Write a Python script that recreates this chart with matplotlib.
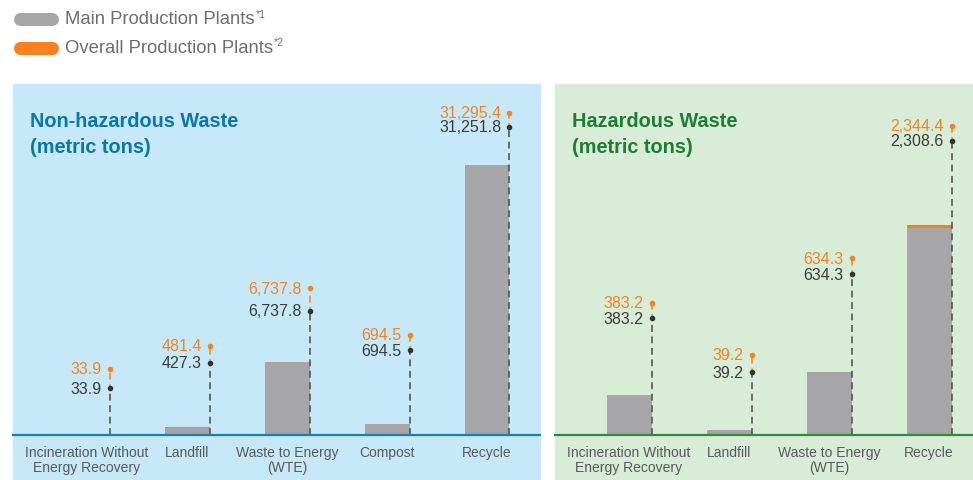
import numpy as np
import matplotlib
matplotlib.use("Agg")
from matplotlib import pyplot as plt
from matplotlib.patches import Rectangle
from matplotlib.lines import Line2D

plt.rcParams['font.family'] = ['Liberation Sans', 'DejaVu Sans']

# data (metric tons)
nh_cats = ["Incineration Without\nEnergy Recovery", "Landfill", "Waste to Energy\n(WTE)", "Compost", "Recycle"]
nh_main = [33.9, 427.3, 6737.8, 694.5, 31251.8]
nh_overall = [33.9, 481.4, 6737.8, 694.5, 31295.4]

hz_cats = ["Incineration Without\nEnergy Recovery", "Landfill", "Waste to Energy\n(WTE)", "Recycle"]
hz_main = [383.2, 39.2, 634.3, 2308.6]
hz_overall = [383.2, 39.2, 634.3, 2344.4]

# label stem heights (pixels above baseline) - layout only
nh_dot_px = [47, 72, 124, 85, 308]
nh_top_px = [66, 89, 147, 100, 322]
hz_dot_px = [117, 63, 161, 294]
hz_top_px = [132, 80, 177, 309]

GREY = "#a6a6a9"
ORANGE = "#f5821f"
NUM_DARK = "#3c3c3c"
NUM_ORANGE = "#f08424"

W, H = 973, 481
fig = plt.figure(figsize=(W / 100, H / 100), dpi=100)

AX_TOP = 85
BASE = 436
AX_H = BASE - AX_TOP


def px_rect(x0, x1, y0, y1):
    return [x0 / W, 1 - y1 / H, (x1 - x0) / W, (y1 - y0) / H]


def panel(x0, x1, bg, line_col, title_col, title, cats, main, overall,
          dot_px, top_px, p, anchor_px):
    fig.patches.append(Rectangle((x0 / W, 1 - 480 / H), (x1 - x0) / W, (480 - AX_TOP) / H,
                                 transform=fig.transFigure, color=bg, zorder=-5))
    ax = fig.add_axes(px_rect(x0, x1, AX_TOP, BASE))
    ax.set_facecolor("none")
    fwd = lambda v: np.sign(v) * np.abs(v) ** p
    inv = lambda v: np.sign(v) * np.abs(v) ** (1 / p)
    ax.set_yscale('function', functions=(fwd, inv))
    top = main[-1] * (AX_H / anchor_px) ** (1 / p)
    ax.set_ylim(0, top)
    n = len(cats)
    x = np.arange(n)
    left_off = 74 / 100
    ax.set_xlim(-left_off, -left_off + (x1 - x0) / 100)
    bw = 0.45
    main = np.array(main)
    overall = np.array(overall)
    ax.bar(x, main, width=bw, color=GREY, zorder=2)
    ax.bar(x, overall - main, bottom=main, width=bw, color=ORANGE, zorder=2)

    tr = ax.get_xaxis_transform()
    for i in range(n):
        sx = x[i] + bw / 2
        yd = dot_px[i] / AX_H
        yt = top_px[i] / AX_H
        ax.plot([sx, sx], [0, yd], transform=tr, color="#4a4a4a", lw=1.1,
                ls=(0, (4.5, 3)), zorder=3, clip_on=False)
        ax.plot([sx, sx], [yd, yt], transform=tr, color=ORANGE, lw=1.1,
                ls=(2, (4.5, 3)), zorder=3, clip_on=False)
        ax.plot(sx, yd, 'o', ms=3, color="#333333", transform=tr, zorder=4, clip_on=False)
        ax.plot(sx, yt, 'o', ms=3, color=ORANGE, transform=tr, zorder=4, clip_on=False)
        ax.annotate(f"{main[i]:,.1f}", (sx, yd), xycoords=tr, xytext=(-8, 0),
                    textcoords='offset pixels', ha='right', va='center',
                    fontsize=11.5, color=NUM_DARK)
        ax.annotate(f"{overall[i]:,.1f}", (sx, yt), xycoords=tr, xytext=(-8, 0),
                    textcoords='offset pixels', ha='right', va='center',
                    fontsize=11.5, color=NUM_ORANGE)

    ax.set_xticks(x, cats)
    ax.tick_params(axis='x', length=0, pad=7, labelsize=10, labelcolor="#58595b")
    for lbl in ax.get_xticklabels():
        lbl.set_linespacing(1.12)
    ax.set_yticks([])
    ax.minorticks_off()
    for s in ['top', 'left', 'right']:
        ax.spines[s].set_visible(False)
    ax.spines['bottom'].set_color(line_col)
    ax.spines['bottom'].set_linewidth(1.6)
    ax.spines['bottom'].set_zorder(5)

    tx = (x0 + 17) / W
    fig.text(tx, 1 - 127 / H, title, fontsize=14.3, fontweight='bold', color=title_col,
             va='baseline', ha='left')
    fig.text(tx, 1 - 153 / H, "(metric tons)", fontsize=14.3, fontweight='bold',
             color=title_col, va='baseline', ha='left')
    return ax


panel(13, 540, "#c7e8f9", "#1a7db6", "#0b77a3", "Non-hazardous Waste",
      nh_cats, nh_main, nh_overall, nh_dot_px, nh_top_px, 0.85, 270)
panel(555, 973, "#d9ecd7", "#2b8a3e", "#1d7d35", "Hazardous Waste",
      hz_cats, hz_main, hz_overall, hz_dot_px, hz_top_px, 0.915, 207)

# legend
legend_items = [("Main Production Plants", "*1", GREY, 20),
                ("Overall Production Plants", "*2", ORANGE, 49)]
for label, sup, col, yc in legend_items:
    fig.add_artist(Line2D([19.5 / W, 51.5 / W], [1 - yc / H, 1 - yc / H],
                          transform=fig.transFigure, color=col, lw=13 * 0.72,
                          solid_capstyle='round'))
    t = fig.text(65 / W, 1 - yc / H, label, fontsize=13.3, color="#6d6e70",
                 va='center', ha='left')
    plt.annotate(sup, xy=(1, 1), xycoords=t, xytext=(1, 2), textcoords='offset pixels',
                 fontsize=7.5, color="#6d6e70", ha='left', va='top',
                 annotation_clip=False)

fig.savefig("out.png", dpi=100, facecolor="white")
